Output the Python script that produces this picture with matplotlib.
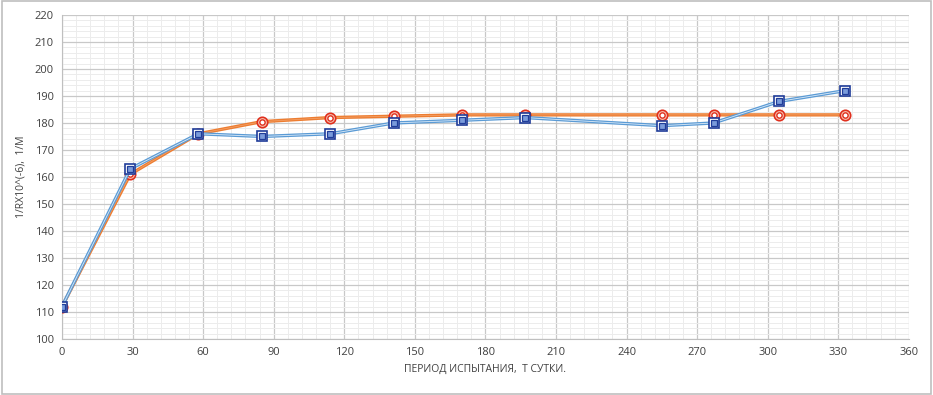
import matplotlib.pyplot as plt
import numpy as np
from matplotlib.patches import Rectangle

plt.rcParams['font.family'] = ['Open Sans', 'DejaVu Sans']

days = [0, 29, 58, 85, 114, 141, 170, 197, 255, 277, 305, 333]
blue_vals = [112, 163, 176, 175, 176, 180, 181, 182, 179, 180, 188, 192]
orange_vals = [112, 161, 176, 180.5, 182, 182.5, 183, 183, 183, 183, 183, 183]

fig = plt.figure(figsize=(9.33, 3.95), dpi=100)
ax = fig.add_axes([0.0665, 0.142, 0.9075, 0.82])

# border around the chart
fig.patches.append(Rectangle((0.002, 0.003), 0.996, 0.994, transform=fig.transFigure,
                             fill=False, edgecolor='#bfbfbf', linewidth=1.2))

ax.set_xlim(0, 360)
ax.set_ylim(100, 220)
ax.set_xticks(np.arange(0, 361, 30))
ax.set_yticks(np.arange(100, 221, 10))
ax.set_xticks(np.arange(0, 361, 6), minor=True)
ax.set_yticks(np.arange(100, 221, 2), minor=True)
ax.grid(which='major', color='#c8c8c8', linewidth=0.9)
ax.grid(which='minor', color='#ececec', linewidth=0.7)
ax.set_axisbelow(True)
ax.tick_params(which='both', length=0, labelsize=8, colors='#404040', pad=6)
for s in ['top', 'right']:
    ax.spines[s].set_visible(False)
for s in ['left', 'bottom']:
    ax.spines[s].set_color('#bfbfbf')

# orange series
ax.plot(days, orange_vals, color='#ED7D31', linewidth=2.4, zorder=3)
ax.plot(days, orange_vals, color='#F3A46E', linewidth=0.5, zorder=3)
ax.plot(days, orange_vals, linestyle='none', marker='o', markersize=7.5,
        markerfacecolor='#F6C7B5', markeredgecolor='#E0301E', markeredgewidth=1.2, zorder=4)
ax.plot(days, orange_vals, linestyle='none', marker='o', markersize=3.8,
        markerfacecolor='white', markeredgecolor='#E0301E', markeredgewidth=1.0, zorder=4)

# blue series (double line look)
ax.plot(days, blue_vals, color='#5B9BD5', linewidth=2.4, zorder=5)
ax.plot(days, blue_vals, color='#DCEAF7', linewidth=0.6, zorder=5)
ax.plot(days, blue_vals, linestyle='none', marker='s', markersize=7.5,
        markerfacecolor='white', markeredgecolor='#1F3C99', markeredgewidth=1.2, zorder=6)
ax.plot(days, blue_vals, linestyle='none', marker='s', markersize=4,
        markerfacecolor='#7A9BDB', markeredgecolor='#1F3C99', markeredgewidth=0.9, zorder=6)

ax.set_xlabel('ПЕРИОД ИСПЫТАНИЯ,  Т СУТКИ.', fontsize=7.5, color='#404040', labelpad=4)
ax.set_ylabel('1/RX10^(-6),  1/M', fontsize=7.5, color='#404040', labelpad=6)

fig.savefig('out.png', dpi=100)
